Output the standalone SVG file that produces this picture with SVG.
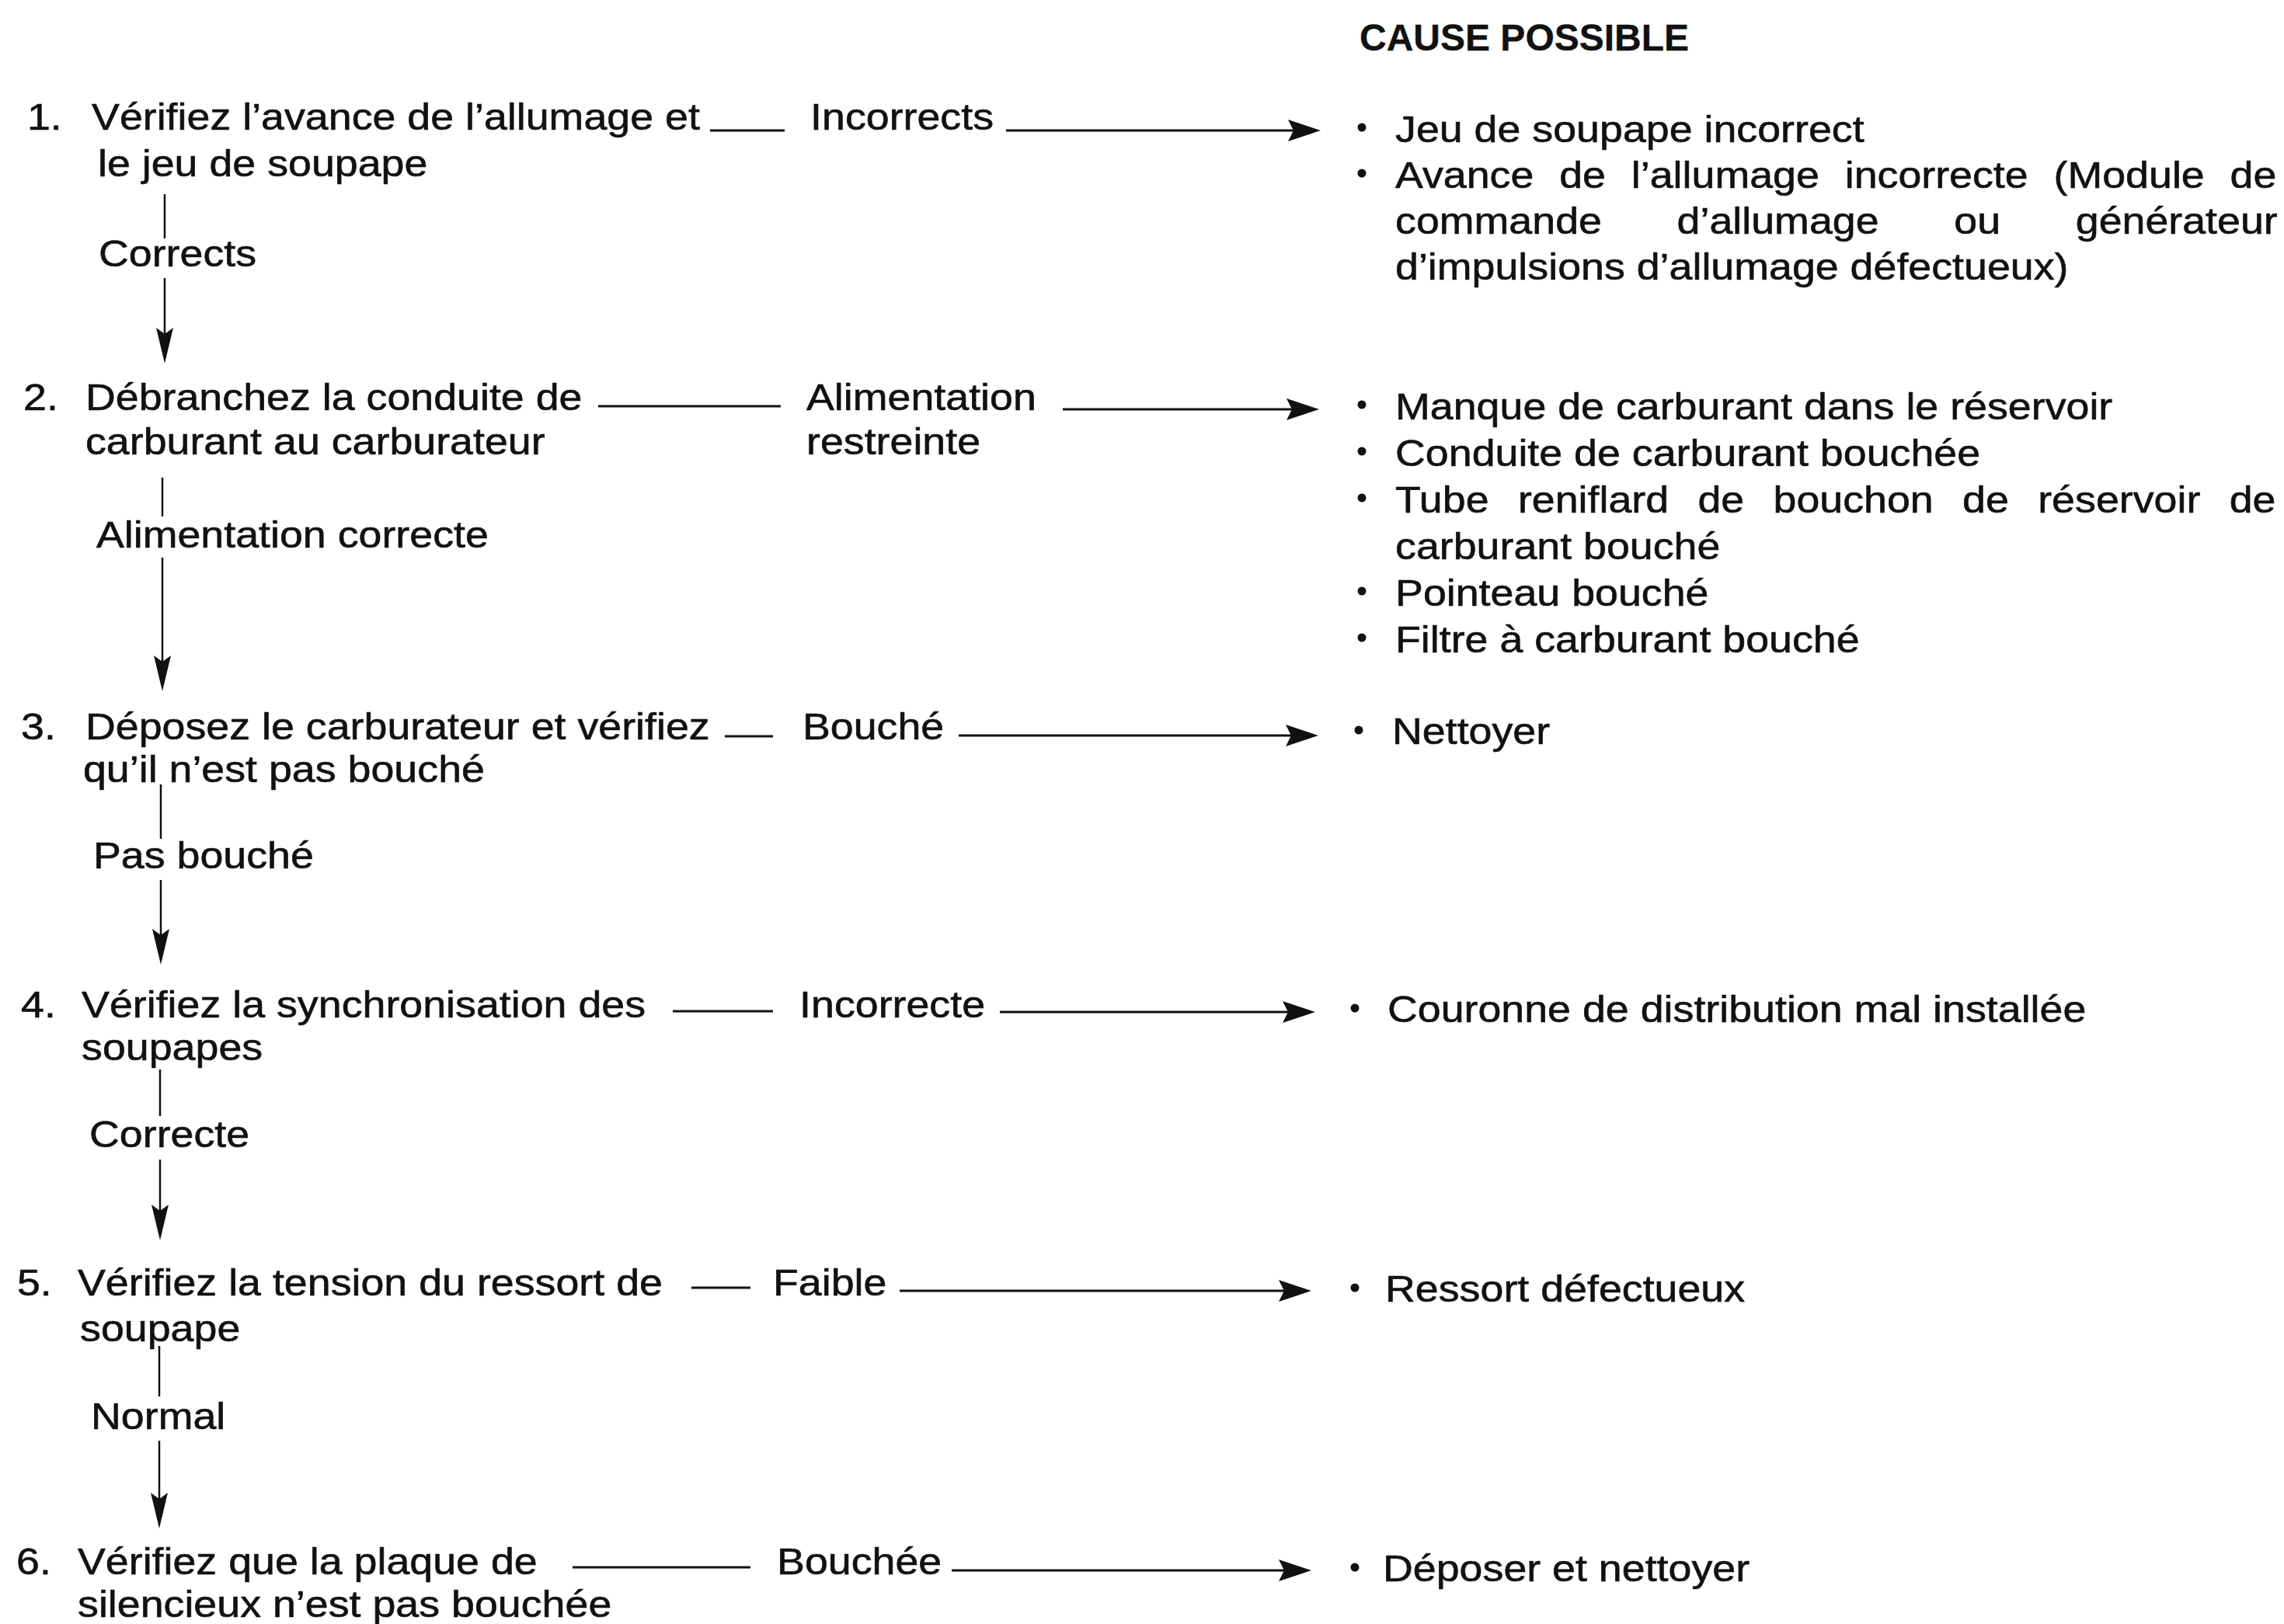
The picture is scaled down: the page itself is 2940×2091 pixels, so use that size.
<svg xmlns="http://www.w3.org/2000/svg" width="2940" height="2091" viewBox="0 0 2940 2091">
<defs>
<style>
text { font-family: "Liberation Sans", Arial, Helvetica, sans-serif; font-size: 48px; fill: #111111; stroke: #111111; stroke-width: 0.6px; }
.hd { font-weight: bold; stroke-width: 0.3px; }
.ln { stroke: #111111; stroke-width: 3; fill: none; }
.v { stroke-width: 2.5; }
.arr { marker-end: url(#ah); }
.arv { marker-end: url(#ahv); }
.bul { fill: #111111; }
</style>
<marker id="ah" markerUnits="userSpaceOnUse" viewBox="-46 -16 48 32" refX="-10" refY="0" markerWidth="48" markerHeight="32" orient="auto">
<path d="M0,0 L-42,-14 L-35,0 L-42,14 Z" fill="#111111"/>
</marker>
<marker id="ahv" markerUnits="userSpaceOnUse" viewBox="-50 -14 52 28" refX="-10" refY="0" markerWidth="52" markerHeight="28" orient="auto">
<path d="M0,0 L-46,-11 L-38,0 L-46,11 Z" fill="#111111"/>
</marker>
</defs>
<rect x="0" y="0" width="2940" height="2091" fill="#ffffff"/>

<g id="header">
<text class="hd" x="1750" y="65">CAUSE POSSIBLE</text>
</g>

<g id="step1">
<g transform="scale(1.12 1)">
<text x="31.2" y="167">1.</text>
<text x="105.4" y="167">Vérifiez l’avance de l’allumage et</text>
<text x="112.5" y="227">le jeu de soupape</text>
</g>
</g>
<g id="step2">
<g transform="scale(1.12 1)">
<text x="26.8" y="528">2.</text>
<text x="98.2" y="528">Débranchez la conduite de</text>
<text x="98.2" y="585">carburant au carburateur</text>
</g>
</g>
<g id="step3">
<g transform="scale(1.12 1)">
<text x="24.1" y="952">3.</text>
<text x="98.2" y="952">Déposez le carburateur et vérifiez</text>
<text x="95.5" y="1007">qu’il n’est pas bouché</text>
</g>
</g>
<g id="step4">
<g transform="scale(1.12 1)">
<text x="24.1" y="1310">4.</text>
<text x="93.8" y="1310">Vérifiez la synchronisation des</text>
<text x="93.8" y="1365">soupapes</text>
</g>
</g>
<g id="step5">
<g transform="scale(1.12 1)">
<text x="19.6" y="1668">5.</text>
<text x="89.3" y="1668">Vérifiez la tension du ressort de</text>
<text x="92" y="1727">soupape</text>
</g>
</g>
<g id="step6">
<g transform="scale(1.12 1)">
<text x="18.8" y="2027">6.</text>
<text x="89.3" y="2027">Vérifiez que la plaque de</text>
<text x="89.3" y="2082">silencieux n’est pas bouchée</text>
</g>
</g>

<g id="pass-labels" transform="scale(1.12 1)">
<text x="113.4" y="343">Corrects</text>
<text x="110.7" y="705">Alimentation correcte</text>
<text x="107.1" y="1118">Pas bouché</text>
<text x="102.7" y="1477">Correcte</text>
<text x="104.5" y="1840">Normal</text>
</g>

<g id="fail-labels" transform="scale(1.12 1)">
<text x="931.3" y="167">Incorrects</text>
<text x="926.8" y="528">Alimentation</text>
<text x="926.8" y="585">restreinte</text>
<text x="922.3" y="952">Bouché</text>
<text x="918.8" y="1310">Incorrecte</text>
<text x="888.4" y="1668">Faible</text>
<text x="892.9" y="2027">Bouchée</text>
</g>

<g id="cause1">
<circle class="bul" cx="1753" cy="164" r="5.5"/>
<circle class="bul" cx="1753" cy="223" r="5.5"/>
<g transform="scale(1.12 1)">
<text x="1603.6" y="183">Jeu de soupape incorrect</text>
<text x="1603.6" y="242" style="word-spacing:16px">Avance de l’allumage incorrecte (Module de</text>
<text x="1603.6" y="301" style="word-spacing:73px">commande d’allumage ou générateur</text>
<text x="1603.6" y="360">d’impulsions d’allumage défectueux)</text>
</g>
</g>
<g id="cause2">
<circle class="bul" cx="1753" cy="521" r="5.5"/>
<circle class="bul" cx="1753" cy="581" r="5.5"/>
<circle class="bul" cx="1753" cy="641" r="5.5"/>
<circle class="bul" cx="1753" cy="761" r="5.5"/>
<circle class="bul" cx="1753" cy="821" r="5.5"/>
<g transform="scale(1.12 1)">
<text x="1603.6" y="540">Manque de carburant dans le réservoir</text>
<text x="1603.6" y="600">Conduite de carburant bouchée</text>
<text x="1603.6" y="660" style="word-spacing:20px">Tube reniflard de bouchon de réservoir de</text>
<text x="1603.6" y="720">carburant bouché</text>
<text x="1603.6" y="780">Pointeau bouché</text>
<text x="1603.6" y="840">Filtre à carburant bouché</text>
</g>
</g>
<g id="cause3">
<circle class="bul" cx="1749" cy="940" r="5.5"/>
<g transform="scale(1.12 1)">
<text x="1600" y="958">Nettoyer</text>
</g>
</g>
<g id="cause4">
<circle class="bul" cx="1744" cy="1298" r="5.5"/>
<g transform="scale(1.12 1)">
<text x="1594.6" y="1316">Couronne de distribution mal installée</text>
</g>
</g>
<g id="cause5">
<circle class="bul" cx="1744" cy="1658" r="5.5"/>
<g transform="scale(1.12 1)">
<text x="1592" y="1676">Ressort défectueux</text>
</g>
</g>
<g id="cause6">
<circle class="bul" cx="1744" cy="2018" r="5.5"/>
<g transform="scale(1.12 1)">
<text x="1589.3" y="2036">Déposer et nettoyer</text>
</g>
</g>

<g id="connectors">
<line class="ln" x1="914" y1="168" x2="1010" y2="168"/>
<line class="ln arr" x1="1295" y1="168" x2="1690" y2="168"/>
<line class="ln v" x1="212" y1="250" x2="212" y2="307"/>
<line class="ln v arv" x1="212" y1="358" x2="212" y2="458"/>

<line class="ln" x1="770" y1="523" x2="1005" y2="523"/>
<line class="ln arr" x1="1368" y1="527" x2="1688" y2="527"/>
<line class="ln v" x1="209" y1="615" x2="209" y2="665"/>
<line class="ln v arv" x1="209" y1="718" x2="209" y2="880"/>

<line class="ln" x1="933" y1="948" x2="995" y2="948"/>
<line class="ln arr" x1="1234" y1="947" x2="1687" y2="947"/>
<line class="ln v" x1="207" y1="1010" x2="207" y2="1080"/>
<line class="ln v arv" x1="207" y1="1133" x2="207" y2="1232"/>

<line class="ln" x1="866" y1="1302" x2="995" y2="1302"/>
<line class="ln arr" x1="1287" y1="1303" x2="1683" y2="1303"/>
<line class="ln v" x1="206" y1="1377" x2="206" y2="1437"/>
<line class="ln v arv" x1="206" y1="1493" x2="206" y2="1587"/>

<line class="ln" x1="890" y1="1658" x2="966" y2="1658"/>
<line class="ln arr" x1="1158" y1="1662" x2="1678" y2="1662"/>
<line class="ln v" x1="205" y1="1733" x2="205" y2="1798"/>
<line class="ln v arv" x1="205" y1="1855" x2="205" y2="1958"/>

<line class="ln" x1="737" y1="2018" x2="966" y2="2018"/>
<line class="ln arr" x1="1225" y1="2022" x2="1678" y2="2022"/>
</g>
</svg>
